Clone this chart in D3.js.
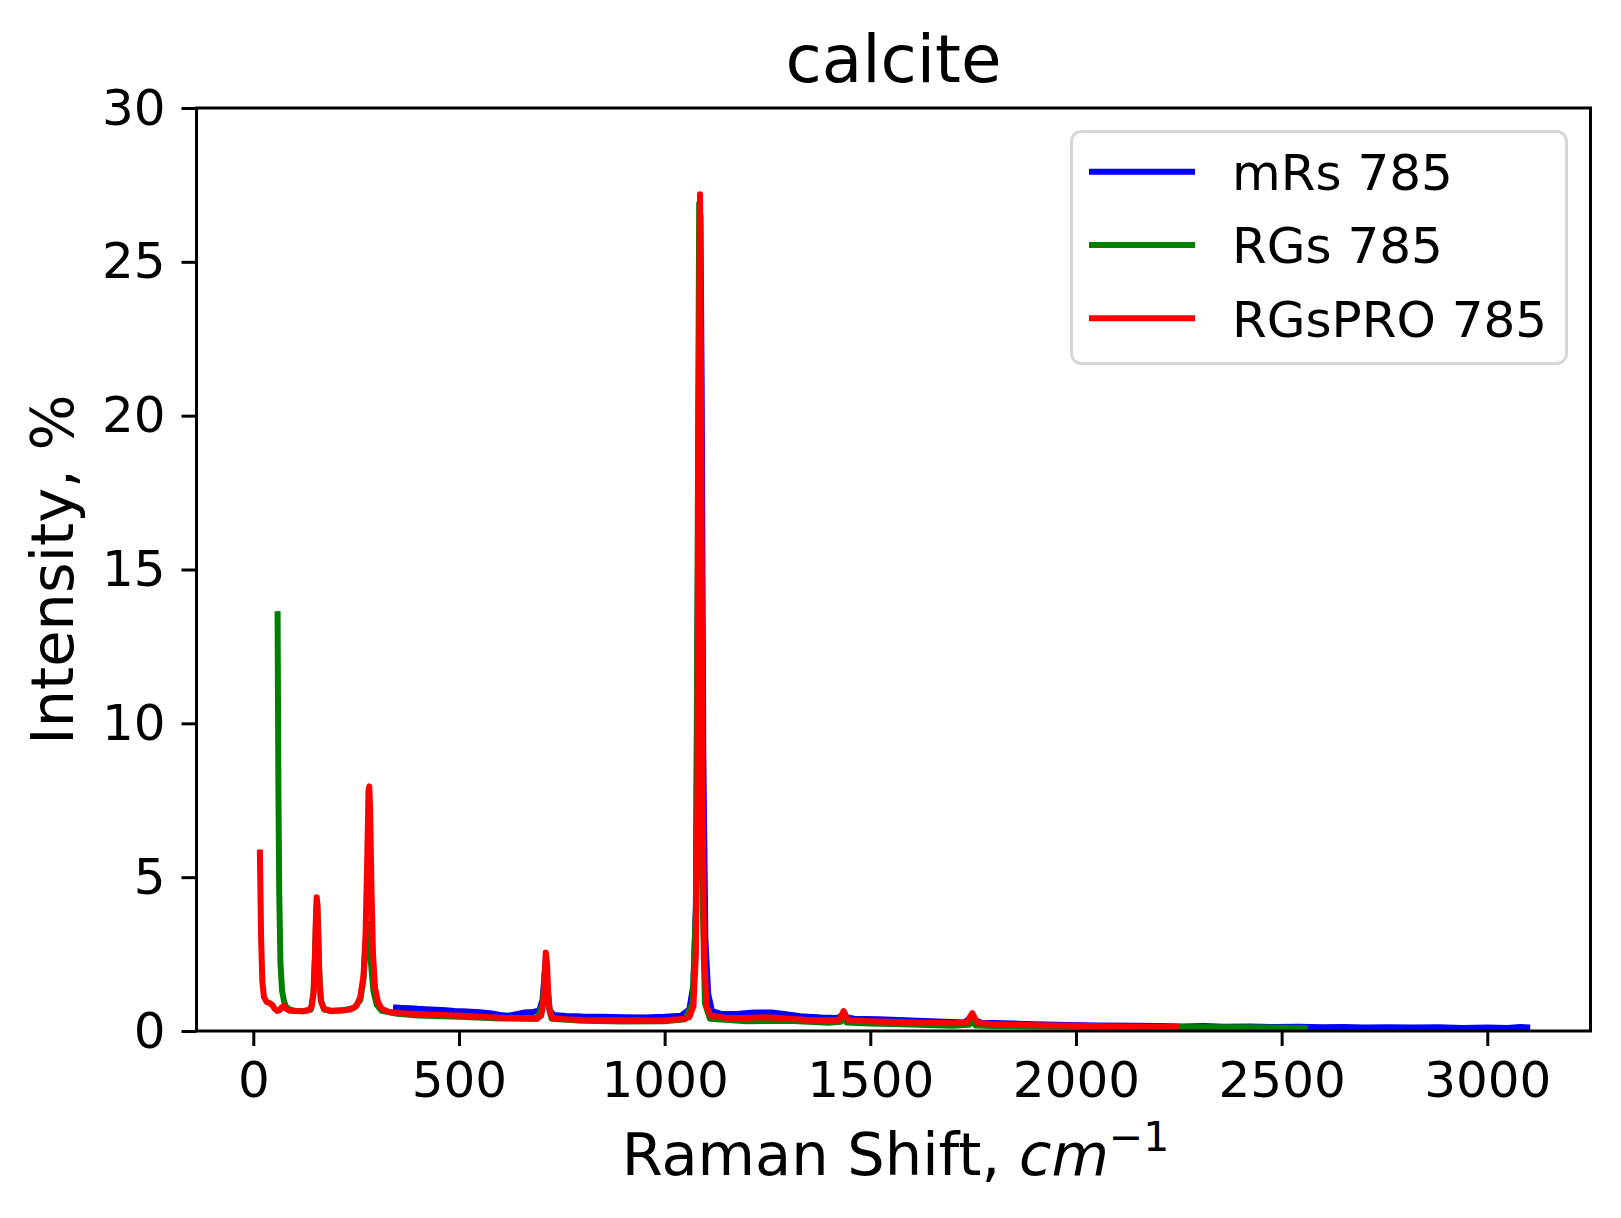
<!DOCTYPE html>
<html>
<head>
<meta charset="utf-8">
<script src="https://cdn.jsdelivr.net/npm/d3@7"></script>
<style>
body { margin: 0; background: #fff; }
text { font-family: "DejaVu Sans", sans-serif; fill: #000; }
</style>
</head>
<body>
<div class="container"></div>
<script>
const WIDTH = 1621;
const HEIGHT = 1218;
const LEFT = 196.5, RIGHT = 1590.5, TOP = 108, BOTTOM = 1031;

const TITLE = "calcite";
const seriesNames = ["mRs 785", "RGs 785", "RGsPRO 785"];
const seriesColours = ["#0000ff", "#008000", "#ff0000"];
const xTicks = [0, 500, 1000, 1500, 2000, 2500, 3000];
const yTicks = [0, 5, 10, 15, 20, 25, 30];

// [raman shift, intensity %]
const mrs785 = [
    [347, 0.76], [360, 0.75], [380, 0.74], [400, 0.72], [430, 0.7], [460, 0.68], [490, 0.65],
    [520, 0.63], [550, 0.61], [580, 0.57], [600, 0.52], [620, 0.5], [640, 0.55], [660, 0.6],
    [680, 0.62], [695, 0.66], [703, 1.0], [708, 1.8], [711, 2.3], [715, 1.5], [720, 0.7],
    [730, 0.52], [760, 0.49], [800, 0.47], [850, 0.46], [900, 0.45], [950, 0.44], [1000, 0.46],
    [1040, 0.5], [1060, 0.7], [1070, 1.5], [1076, 4], [1080, 12], [1084, 24], [1087, 26.5],
    [1090, 21], [1094, 9], [1099, 3], [1106, 1.2], [1115, 0.65], [1140, 0.55], [1180, 0.56],
    [1220, 0.6], [1260, 0.6], [1290, 0.55], [1330, 0.48], [1380, 0.44], [1420, 0.42],
    [1430, 0.5], [1436, 0.62], [1442, 0.45], [1460, 0.4], [1520, 0.38], [1600, 0.34],
    [1680, 0.3], [1730, 0.28], [1742, 0.42], [1748, 0.52], [1755, 0.36], [1770, 0.27],
    [1850, 0.24], [1950, 0.2], [2050, 0.18], [2150, 0.17], [2200, 0.16], [2260, 0.15],
    [2310, 0.16], [2360, 0.14], [2420, 0.15], [2480, 0.13], [2540, 0.14], [2600, 0.12],
    [2650, 0.13], [2700, 0.11], [2760, 0.12], [2820, 0.11], [2880, 0.12], [2940, 0.1],
    [3000, 0.11], [3050, 0.1], [3080, 0.13], [3097, 0.12]
];

const rgs785 = [
    [59, 13.55], [61, 8], [63, 4.5], [66, 2.2], [70, 1.3], [75, 0.95], [80, 0.78], [88, 0.7],
    [100, 0.66], [120, 0.64], [140, 0.7], [146, 1.2], [150, 2.5], [153, 3.8], [155, 4.2],
    [157, 3.6], [160, 2.0], [164, 1.0], [172, 0.7], [190, 0.65], [220, 0.68], [245, 0.75],
    [260, 1.0], [268, 1.7], [274, 3.0], [278, 3.5], [282, 3.3], [286, 2.2], [292, 1.3],
    [300, 0.85], [312, 0.66], [350, 0.56], [400, 0.5], [500, 0.46], [600, 0.41], [690, 0.39],
    [704, 0.9], [709, 2.0], [712, 2.2], [716, 1.0], [725, 0.4], [800, 0.33], [900, 0.31],
    [1000, 0.32], [1050, 0.38], [1068, 0.9], [1076, 4], [1080, 15], [1084, 26.9], [1087, 18],
    [1091, 5], [1098, 0.9], [1110, 0.4], [1200, 0.32], [1300, 0.33], [1400, 0.27],
    [1428, 0.3], [1435, 0.48], [1442, 0.28], [1500, 0.24], [1600, 0.21], [1700, 0.17],
    [1740, 0.2], [1748, 0.34], [1756, 0.18], [1800, 0.16], [2000, 0.14], [2200, 0.13],
    [2400, 0.12], [2557, 0.1]
];

const rgspro785 = [
    [16, 5.8], [19, 3.0], [22, 1.6], [26, 1.1], [32, 0.95], [40, 0.9], [46, 0.85], [52, 0.72],
    [58, 0.65], [64, 0.68], [70, 0.78], [75, 0.82], [80, 0.72], [88, 0.66], [100, 0.65],
    [120, 0.64], [135, 0.68], [142, 0.8], [147, 1.3], [150, 2.4], [152, 3.6], [154, 4.35],
    [156, 4.1], [158, 3.0], [161, 1.6], [165, 0.95], [172, 0.72], [185, 0.66], [210, 0.66],
    [235, 0.7], [250, 0.8], [260, 1.1], [268, 1.8], [273, 3.2], [277, 5.6], [280, 7.8],
    [282, 7.95], [284, 7.2], [287, 4.8], [291, 2.5], [296, 1.4], [303, 0.95], [312, 0.72],
    [330, 0.62], [360, 0.58], [400, 0.55], [450, 0.52], [500, 0.5], [550, 0.46], [600, 0.43],
    [650, 0.42], [690, 0.42], [700, 0.5], [705, 0.9], [708, 1.7], [711, 2.55], [714, 2.2],
    [717, 1.2], [721, 0.6], [727, 0.42], [760, 0.38], [800, 0.36], [850, 0.35], [900, 0.35],
    [950, 0.34], [1000, 0.35], [1040, 0.38], [1060, 0.45], [1070, 0.8], [1076, 2.5],
    [1080, 8], [1083, 20], [1086, 27.2], [1089, 20], [1092, 8], [1096, 2.5], [1102, 0.8],
    [1112, 0.5], [1150, 0.42], [1200, 0.42], [1250, 0.45], [1300, 0.4], [1350, 0.36],
    [1400, 0.34], [1425, 0.36], [1430, 0.5], [1435, 0.65], [1440, 0.5], [1446, 0.35],
    [1500, 0.32], [1600, 0.28], [1700, 0.25], [1735, 0.27], [1742, 0.45], [1748, 0.58],
    [1754, 0.42], [1762, 0.26], [1800, 0.22], [1900, 0.19], [2000, 0.17], [2100, 0.15],
    [2200, 0.14], [2243, 0.14]
];

const allSeries = [mrs785, rgs785, rgspro785];

var svg = d3.select('.container').append('svg')
    .attr('width', WIDTH)
    .attr('height', HEIGHT)
    .style('background', '#fff');

var xScale = d3.scaleLinear().domain([-138.1, 3250.9]).range([LEFT, RIGHT]);
var yScale = d3.scaleLinear().domain([0, 30]).range([BOTTOM, TOP]);

// axes
var xAxis = d3.axisBottom(xScale).tickValues(xTicks).tickFormat(d3.format('d'))
    .tickSize(15).tickPadding(15);
var yAxis = d3.axisLeft(yScale).tickValues(yTicks).tickFormat(d3.format('d'))
    .tickSize(15).tickPadding(16);

var gx = svg.append('g')
    .attr('transform', 'translate(0,' + BOTTOM + ')')
    .call(xAxis);
var gy = svg.append('g')
    .attr('transform', 'translate(' + LEFT + ',0)')
    .call(yAxis);

[gx, gy].forEach(function (g) {
    g.select('.domain').remove();
    g.selectAll('line').attr('stroke', '#000').attr('stroke-width', 3);
    g.selectAll('text')
        .attr('font-family', '"DejaVu Sans", sans-serif')
        .attr('font-size', 50)
        .attr('fill', '#000');
});

// lines
svg.append('clipPath').attr('id', 'plotclip')
    .append('rect')
    .attr('x', LEFT).attr('y', TOP)
    .attr('width', RIGHT - LEFT).attr('height', BOTTOM - TOP);

var line = d3.line()
    .x(function (d) { return xScale(d[0]); })
    .y(function (d) { return yScale(d[1]); });

var lines = svg.append('g').attr('clip-path', 'url(#plotclip)');
allSeries.forEach(function (s, i) {
    lines.append('path')
        .attr('d', line(s))
        .attr('fill', 'none')
        .attr('stroke', seriesColours[i])
        .attr('stroke-width', 6)
        .attr('stroke-linejoin', 'round')
        .attr('stroke-linecap', 'square');
});

// frame
svg.append('rect')
    .attr('x', LEFT).attr('y', TOP)
    .attr('width', RIGHT - LEFT).attr('height', BOTTOM - TOP)
    .attr('fill', 'none')
    .attr('stroke', '#000')
    .attr('stroke-width', 3);

// title and labels
svg.append('text')
    .attr('x', (LEFT + RIGHT) / 2).attr('y', 82)
    .attr('text-anchor', 'middle')
    .attr('font-size', 66)
    .text(TITLE);

var xl = svg.append('text')
    .attr('x', (LEFT + RIGHT) / 2 + 2).attr('y', 1175)
    .attr('text-anchor', 'middle')
    .attr('font-size', 59);
xl.append('tspan').text('Raman Shift, ');
xl.append('tspan').attr('font-style', 'italic').text('cm');
xl.append('tspan').attr('font-size', 41).attr('dy', -24).text('\u22121');

svg.append('text')
    .attr('transform', 'translate(73,' + (TOP + BOTTOM) / 2 + ') rotate(-90)')
    .attr('text-anchor', 'middle')
    .attr('font-size', 59)
    .text('Intensity, %');

// legend
var lg = svg.append('g');
lg.append('rect')
    .attr('x', 1071.5).attr('y', 131.5)
    .attr('width', 495).attr('height', 232)
    .attr('rx', 10)
    .attr('fill', '#fff').attr('fill-opacity', 0.8)
    .attr('stroke', '#d6d6d6').attr('stroke-width', 3);

seriesNames.forEach(function (name, i) {
    var y = 171.7 + i * 73.3;
    lg.append('line')
        .attr('x1', 1089).attr('x2', 1195)
        .attr('y1', y).attr('y2', y)
        .attr('stroke', seriesColours[i])
        .attr('stroke-width', 6);
    lg.append('text')
        .attr('x', 1232).attr('y', y + 18.3)
        .attr('font-size', 50)
        .text(name);
});
</script>
</body>
</html>
